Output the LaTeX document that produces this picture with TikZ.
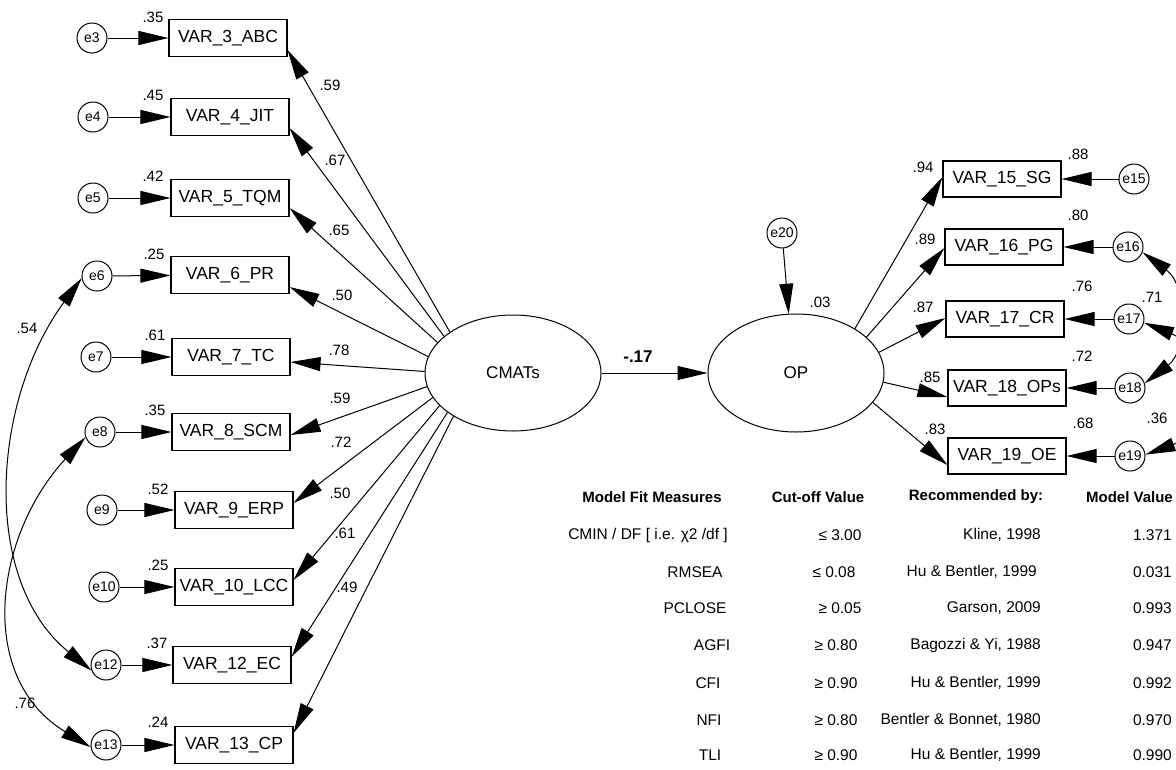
\documentclass[tikz,border=0pt]{standalone}
\usepackage{fontspec}
\setmainfont{Liberation Sans}
\usetikzlibrary{arrows.meta,shapes.geometric,calc}
\begin{document}
\begin{tikzpicture}[x=1pt,y=-1pt,
  box/.style={draw,line width=1.1pt,minimum width=118pt,minimum height=37pt,inner sep=0pt,font=\fontsize{17.5}{20}\selectfont},
  err/.style={circle,draw,line width=1pt,minimum size=30pt,inner sep=0pt,font=\fontsize{14}{16}\selectfont},
  lat/.style={ellipse,draw,line width=1pt,minimum width=176pt,minimum height=116pt,inner sep=0pt,font=\fontsize{17}{20}\selectfont},
  lbl/.style={inner sep=0pt,font=\fontsize{15}{17}\selectfont},
  tbh/.style={inner sep=0pt,font=\fontsize{15}{17}\selectfont\bfseries},
  tbv/.style={inner sep=0pt,font=\fontsize{15.5}{18}\selectfont},
  arr/.style={line width=1pt,-{Triangle[length=30pt,width=14pt]}},
  darr/.style={line width=1pt,{Triangle[length=30pt,width=14pt]}-{Triangle[length=30pt,width=14pt]}},
]
\useasboundingbox (0,0) rectangle (1176,769);
\clip (0,0) rectangle (1176,769);

% left indicators
\node[box] (v3)  at (228,38)  {VAR\_3\_ABC};
\node[box] (v4)  at (230,117) {VAR\_4\_JIT};
\node[box] (v5)  at (230,198) {VAR\_5\_TQM};
\node[box] (v6)  at (230,275) {VAR\_6\_PR};
\node[box] (v7)  at (231,357) {VAR\_7\_TC};
\node[box] (v8)  at (231,432) {VAR\_8\_SCM};
\node[box] (v9)  at (234,510) {VAR\_9\_ERP};
\node[box] (v10) at (234,587) {VAR\_10\_LCC};
\node[box] (v12) at (232,665) {VAR\_12\_EC};
\node[box] (v13) at (234,745) {VAR\_13\_CP};

\node[err] (e3)  at (92,38)  {e3};
\node[err] (e4)  at (93,117) {e4};
\node[err] (e5)  at (93,198) {e5};
\node[err] (e6)  at (97,276) {e6};
\node[err] (e7)  at (96,357) {e7};
\node[err] (e8)  at (100,432) {e8};
\node[err] (e9)  at (102,510) {e9};
\node[err] (e10) at (104,587) {e10};
\node[err] (e12) at (106,665) {e12};
\node[err] (e13) at (106,745) {e13};

\foreach \e/\v in {e3/v3,e4/v4,e5/v5,e6/v6,e7/v7,e8/v8,e9/v9,e10/v10,e12/v12,e13/v13}
  \draw[arr] (\e) -- (\v);

% variances left
\node[lbl] (r3)  at (153,17)  {.35};
\node[lbl] (r4)  at (153,95)  {.45};
\node[lbl] (r5)  at (153,176) {.42};
\node[lbl] (r6)  at (154,254) {.25};
\node[lbl] (r7)  at (155,335) {.61};
\node[lbl] (r8)  at (155,410) {.35};
\node[lbl] (r9)  at (158,489) {.52};
\node[lbl] (r10) at (158,565) {.25};
\node[lbl] (r12) at (157,643) {.37};
\node[lbl] (r13) at (158,722) {.24};

% latents
\node[lat] (cm) at (513,373) {CMATs};
\node[lat,minimum height=118pt] (op) at (796,373) {OP};
\node[err] (e20) at (782,233) {e20};

% loadings CMATs
\draw[arr] (cm.147) -- ($(v3.east)+(0,12)$);
\draw[arr] (cm.152) -- ($(v4.east)+(0,11)$);
\draw[arr] (cm.158) -- ($(v5.east)+(0,10)$);
\draw[arr] (cm.169) -- ($(v6.east)+(0,12)$);
\draw[arr] (cm.179) -- ($(v7.east)+(0,5)$);
\draw[arr] (cm.189) -- ($(v8.east)+(0,3)$);
\draw[arr] (cm.197) -- ($(v9.east)+(0,-7)$);
\draw[arr] (cm.204) -- ($(v10.east)+(0,-7)$);
\draw[arr] (cm.211) -- ($(v12.east)+(0,-8)$);
\draw[arr] (cm.216) -- ($(v13.east)+(0,-12)$);

\node[lbl] (l3)  at (330,85)  {.59};
\node[lbl] (l4)  at (335,160) {.67};
\node[lbl] (l5)  at (339,230) {.65};
\node[lbl] (l6)  at (342,295) {.50};
\node[lbl] (l7)  at (339,350) {.78};
\node[lbl] (l8)  at (340,398) {.59};
\node[lbl] (l9)  at (341,442) {.72};
\node[lbl] (l10) at (340,493) {.50};
\node[lbl] (l12) at (345,533) {.61};
\node[lbl] (l13) at (347,587) {.49};

% structural path
\draw[arr] (cm.east) -- (op.west);
\node[inner sep=0pt,font=\fontsize{17}{20}\selectfont\bfseries] (b) at (638,357) {-.17};
\draw[arr] (e20) -- (op.97);
\node[lbl] (r20) at (820,302) {.03};

% right indicators
\node[box,minimum height=36pt] (v15) at (1002,179) {VAR\_15\_SG};
\node[box,minimum height=36pt] (v16) at (1004,247) {VAR\_16\_PG};
\node[box,minimum height=36pt] (v17) at (1005,319) {VAR\_17\_CR};
\node[box,minimum height=36pt] (v18) at (1007,388) {VAR\_18\_OPs};
\node[box,minimum height=36pt] (v19) at (1007,456) {VAR\_19\_OE};

\node[err] (e15) at (1134,179) {e15};
\node[err] (e16) at (1128,247) {e16};
\node[err] (e17) at (1129,319) {e17};
\node[err] (e18) at (1130,388) {e18};
\node[err] (e19) at (1130,456) {e19};

\foreach \e/\v in {e15/v15,e16/v16,e17/v17,e18/v18,e19/v19}
  \draw[arr] (\e) -- (\v);

\draw[arr] (op.37)  -- ($(v15.west)+(0,-2)$);
\draw[arr] (op.27)  -- ($(v16.west)+(0,1)$);
\draw[arr] (op.14)  -- ($(v17.west)+(0,-1)$);
\draw[arr] (op.354) -- ($(v18.west)+(0,9)$);
\draw[arr] (op.339) -- ($(v19.west)+(0,9)$);

\node[lbl] (l15) at (923,167) {.94};
\node[lbl] (l16) at (925,239) {.89};
\node[lbl] (l17) at (923,307) {.87};
\node[lbl] (l18) at (930,377) {.85};
\node[lbl] (l19) at (935,429) {.83};

\node[lbl] (r15) at (1078,154) {.88};
\node[lbl] (r16) at (1078,215) {.80};
\node[lbl] (r17) at (1082,286) {.76};
\node[lbl] (r18) at (1082,356) {.72};
\node[lbl] (r19) at (1083,423) {.68};

% covariances
\draw[darr] (e6.188) .. controls (-8,400) and (-20,580) .. (e12.201);
\draw[darr] (e8.200) .. controls (-5,535) and (-25,677) .. (e13.188);
\draw[darr] (e16.340) .. controls (1188,286) and (1188,350) .. (e18.18);
\draw[darr] (e17.346) .. controls (1205,347) and (1205,433) .. (e19.5);
\node[lbl] (c1) at (27,328) {.54};
\node[lbl] (c2) at (25,703) {.76};
\node[lbl] (c3) at (1152,297) {.71};
\node[lbl] (c4) at (1157,418) {.36};

% fit table
\node[tbh] (h1) at (652,497) {Model Fit Measures};
\node[tbh] (h2) at (818,497) {Cut-off Value};
\node[tbh] (h3) at (976,497) {Recommended by:};
\node[tbh,anchor=east] (h4) at (1173,497) {Model Value};

\node[tbv] (a1) at (648,535) {CMIN / DF [ i.e. χ2 /df ]};
\node[tbv] (a2) at (695,572) {RMSEA};
\node[tbv] (a3) at (695,608) {PCLOSE};
\node[tbv] (a4) at (712,645) {AGFI};
\node[tbv] (a5) at (708,683) {CFI};
\node[tbv] (a6) at (709,720) {NFI};
\node[tbv] (a7) at (710,755) {TLI};

\node[tbv] (b1) at (840,535) {≤ 3.00};
\node[tbv] (b2) at (834,572) {≤ 0.08};
\node[tbv] (b3) at (840,608) {≥ 0.05};
\node[tbv] (b4) at (836,645) {≥ 0.80};
\node[tbv] (b5) at (836,683) {≥ 0.90};
\node[tbv] (b6) at (836,720) {≥ 0.80};
\node[tbv] (b7) at (836,755) {≥ 0.90};

\node[tbv,anchor=east] (d1) at (1041,535) {Kline, 1998};
\node[tbv,anchor=east] (d2) at (1037,572) {Hu \& Bentler, 1999};
\node[tbv,anchor=east] (d3) at (1041,608) {Garson, 2009};
\node[tbv,anchor=east] (d4) at (1041,645) {Bagozzi \& Yi, 1988};
\node[tbv,anchor=east] (d5) at (1041,683) {Hu \& Bentler, 1999};
\node[tbv,anchor=east] (d6) at (1041,720) {Bentler \& Bonnet, 1980};
\node[tbv,anchor=east] (d7) at (1041,755) {Hu \& Bentler, 1999};

\node[tbv,anchor=east] (m1) at (1172,535) {1.371};
\node[tbv,anchor=east] (m2) at (1172,572) {0.031};
\node[tbv,anchor=east] (m3) at (1172,608) {0.993};
\node[tbv,anchor=east] (m4) at (1172,645) {0.947};
\node[tbv,anchor=east] (m5) at (1172,683) {0.992};
\node[tbv,anchor=east] (m6) at (1172,720) {0.970};
\node[tbv,anchor=east] (m7) at (1172,755) {0.990};
\end{tikzpicture}
\end{document}
